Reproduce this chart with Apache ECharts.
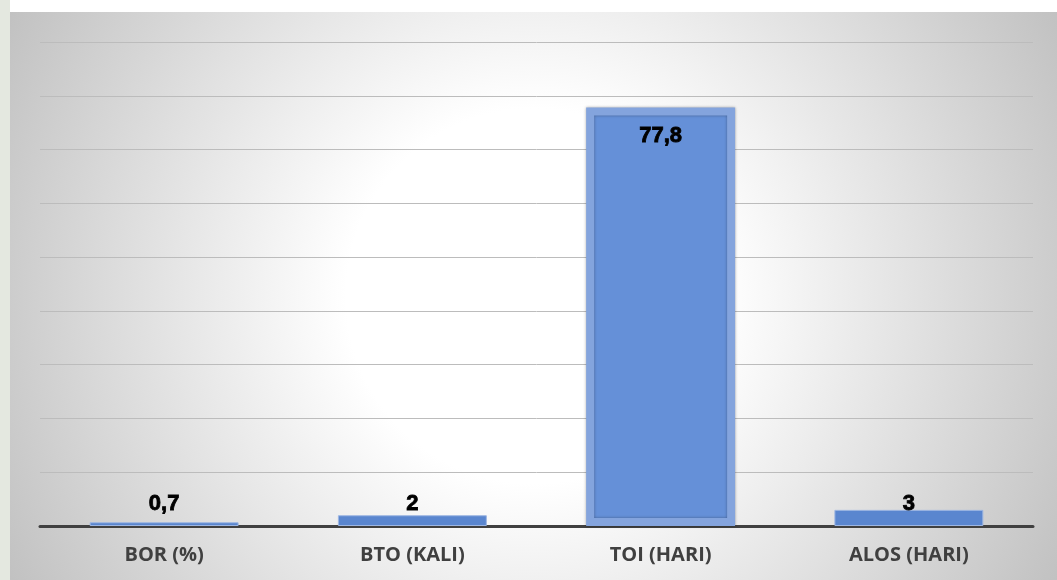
<!DOCTYPE html>
<html>
<head>
<meta charset="utf-8">
<script src="https://cdn.jsdelivr.net/npm/echarts@6/dist/echarts.min.js"></script>
<style>
  html, body { margin: 0; padding: 0; background: #ffffff; }
  #strip { position: absolute; left: 0; top: 0; width: 10px; height: 580px; background: #e4e8e0; }
  .kk { position: absolute; left: 10px; top: 12px; width: 1047px; height: 568px; }
</style>
</head>
<body>
<div id="strip"></div>
<div class="kk"></div>
<script>
var categories = ['BOR (%)', 'BTO (KALI)', 'TOI (HARI)', 'ALOS (HARI)'];
var values = [0.7, 2, 77.8, 3];
var yMax = 90;
var yStep = 10;

(function(){
    var mychart = echarts.init(document.querySelector(".kk"))

    // big bar gets label inside the top, small ones sit on a common line above the axis
    var barData = values.map(function(v) {
        if (v > 20) {
            return {
                value: v,
                itemStyle: {
                    color: '#6590d8',
                    borderColor: '#84a4dd',
                    borderWidth: 8,
                    shadowBlur: 3,
                    shadowColor: 'rgba(0,0,0,0.35)'
                },
                label: { position: 'insideTop', distance: 17 }
            };
        }
        return { value: v };
    });

    option = {
        backgroundColor: new echarts.graphic.RadialGradient(0.5, 0.5, 1.1, [{
            offset: 0, color: '#ffffff'
        }, {
            offset: 0.3, color: '#ffffff'
        }, {
            offset: 1, color: '#bdbdbd'
        }]),
        grid: {
            left: 30,
            right: 24,
            top: 30,
            bottom: 54
        },
        xAxis: {
            type: 'category',
            data: categories,
            axisLine: {
                lineStyle: { color: '#404040', width: 3 }
            },
            axisTick: { show: false },
            axisLabel: {
                color: '#404040',
                fontFamily: 'Open Sans',
                fontWeight: 'bold',
                fontSize: 20,
                margin: 19
            }
        },
        yAxis: {
            type: 'value',
            min: 0,
            max: yMax,
            interval: yStep,
            axisLabel: { show: false },
            axisLine: { show: false },
            axisTick: { show: false },
            splitLine: {
                lineStyle: { color: '#bcbcbc', width: 1 }
            }
        },
        series: [{
            type: 'bar',
            data: barData,
            barWidth: '60%',
            itemStyle: {
                color: '#5a86cf',
                borderColor: '#9db6e2',
                borderWidth: 1
            },
            label: {
                show: true,
                position: 'insideBottom',
                distance: 11,
                color: '#000000',
                fontFamily: 'Liberation Sans',
                fontWeight: 'bold',
                fontSize: 22,
                textBorderColor: '#000000',
                textBorderWidth: 0.8,
                formatter: function(p) {
                    return String(p.value).replace('.', ',');
                }
            }
        }]
    };
    mychart.setOption(option);
})();
</script>
</body>
</html>
